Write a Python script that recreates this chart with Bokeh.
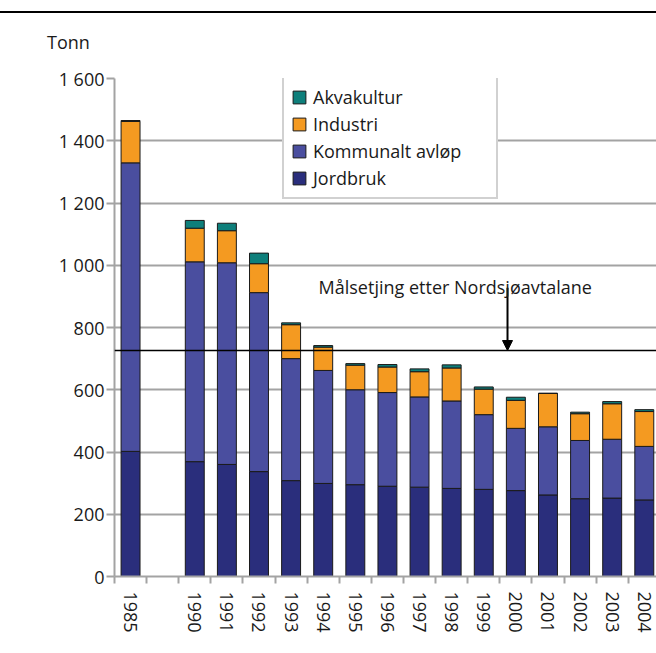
from bokeh.plotting import figure
from bokeh.models import (Range1d, FixedTicker, Legend, LegendItem, Span, Label,
                          Arrow, NormalHead, Div, ColumnDataSource)
from bokeh.layouts import column
from bokeh.embed import file_html
from bokeh.resources import INLINE

# ---- data ----
slots = ["1985", "", "1990", "1991", "1992", "1993", "1994", "1995", "1996",
         "1997", "1998", "1999", "2000", "2001", "2002", "2003", "2004"]
years = ["1985", "1990", "1991", "1992", "1993", "1994", "1995", "1996",
         "1997", "1998", "1999", "2000", "2001", "2002", "2003", "2004"]
jordbruk = [402, 369, 360, 337, 308, 299, 295, 290, 287, 283, 280, 276, 262, 250, 252, 246]
kommunalt = [927, 642, 648, 575, 392, 363, 305, 301, 290, 281, 240, 200, 219, 187, 189, 172]
industri = [133, 108, 103, 93, 109, 75, 79, 82, 81, 106, 82, 90, 107, 86, 114, 112]
akvakultur = [3, 25, 24, 34, 6, 5, 5, 8, 9, 10, 7, 10, 1, 5, 7, 6]
series = ["Jordbruk", "Kommunalt avløp", "Industri", "Akvakultur"]
colors = ["#2a2e7c", "#4a4e9f", "#f49a21", "#0e7f7b"]
target = 726
target_label = "Målsetjing etter Nordsjøavtalane"
unit_label = "Tonn"
y_ticks = [0, 200, 400, 600, 800, 1000, 1200, 1400, 1600]

FONT = "Open Sans"
GRAY = "#a3a3a3"
TXT = "#1a1a1a"

x_pos = [slots.index(y) + 0.5 for y in years]
src = ColumnDataSource(dict(x=x_pos, Jordbruk=jordbruk, **{"Kommunalt avløp": kommunalt},
                            Industri=industri, Akvakultur=akvakultur))

p = figure(width=656, height=590, output_backend="svg", toolbar_location=None,
           x_range=Range1d(0, 16.88), y_range=Range1d(0, 1600),
           min_border_left=114, min_border_right=0, min_border_top=23,
           min_border_bottom=69)
p.outline_line_color = None
p.background_fill_color = "white"
p.border_fill_color = "white"

renderers = p.vbar_stack(series, x="x", width=0.59, source=src, color=colors,
                         line_color="#1a1a1a", line_width=1)

# grid
p.xgrid.visible = False
p.ygrid.grid_line_color = GRAY
p.ygrid.grid_line_width = 2
p.ygrid.ticker = FixedTicker(ticks=y_ticks)

# y axis
ya = p.yaxis[0]
ya.ticker = FixedTicker(ticks=y_ticks)
ya.major_label_overrides = {v: f"{v:,}".replace(",", " ") for v in y_ticks}
ya.axis_line_color = GRAY
ya.axis_line_width = 2
ya.major_tick_line_color = GRAY
ya.major_tick_line_width = 2
ya.major_tick_in = 0
ya.major_tick_out = 8
ya.minor_tick_line_color = None
ya.major_label_standoff = 2
ya.major_label_text_font = FONT
ya.major_label_text_font_size = "18px"
ya.major_label_text_color = TXT

# x axis
xa = p.xaxis[0]
centers = [slots.index(y) + 0.5 for y in years]
xa.ticker = FixedTicker(ticks=centers, minor_ticks=list(range(len(slots) + 1)))
xa.major_label_overrides = {c: y for c, y in zip(centers, years)}
xa.major_label_orientation = "vertical"
xa.axis_line_color = GRAY
xa.axis_line_width = 2
xa.major_tick_line_color = None
xa.major_tick_in = 0
xa.major_tick_out = 0
xa.minor_tick_line_color = GRAY
xa.minor_tick_line_width = 2
xa.minor_tick_in = 0
xa.minor_tick_out = 7
xa.major_label_standoff = 8
xa.major_label_text_font = FONT
xa.major_label_text_font_size = "18px"
xa.major_label_text_color = TXT

# target line + annotation
p.add_layout(Span(location=target, dimension="width", line_color="black", line_width=1.5))
p.add_layout(Arrow(end=NormalHead(size=10, fill_color="black", line_color="black"),
                   x_start=12.24, y_start=928, x_end=12.24, y_end=target,
                   line_color="black", line_width=2))
p.add_layout(Label(x=6.355, y=929, text=target_label,
                   text_font=FONT, text_font_size="18px", text_color=TXT,
                   text_baseline="alphabetic", text_align="left"))

# legend
items = [LegendItem(label=s, renderers=[r]) for s, r in zip(series, renderers)][::-1]
legend = Legend(items=items, location=(168, 377), padding=7, spacing=3,
                label_height=22, glyph_height=16, glyph_width=16, label_standoff=6,
                label_width=176,
                label_text_font=FONT, label_text_font_size="18px",
                label_text_color=TXT,
                border_line_color=GRAY, border_line_width=2, margin=0,
                background_fill_alpha=1)
p.add_layout(legend, "center")

header = Div(text=('<div style="width:656px;border-top:2px solid black;margin-top:11px;'
                   'padding:17px 0 0 47px;box-sizing:border-box;'
                   'font-family:\'Open Sans\';font-size:18px;'
                   'line-height:24.5px;color:#1a1a1a">' + unit_label + '</div>'),
             width=656, height=55, margin=0)
layout = column(header, p, spacing=0)

open("out.html", "w").write(file_html(layout, INLINE))
